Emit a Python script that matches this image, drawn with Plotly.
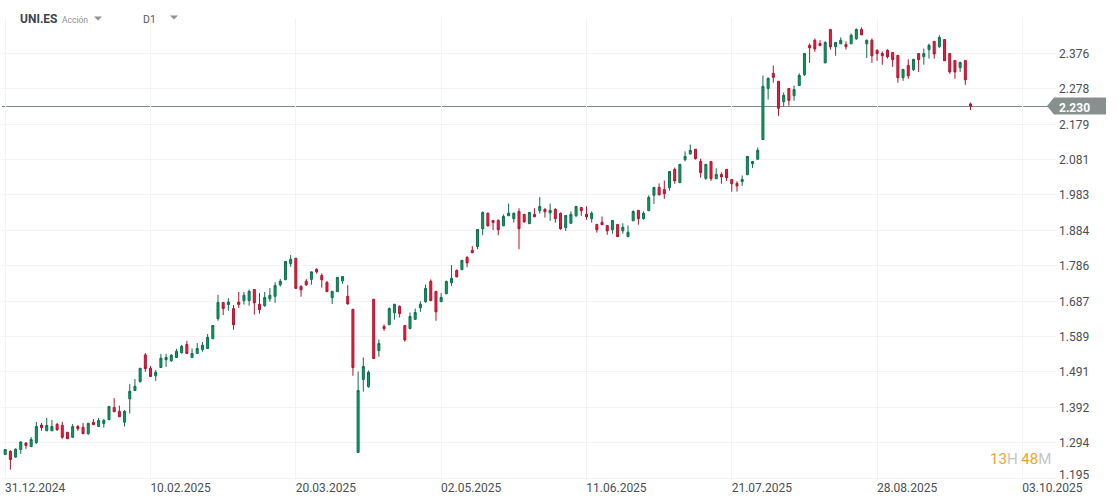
import plotly.graph_objects as go

opens = [
    1.261, 1.270, 1.254, 1.275, 1.293, 1.283, 1.294, 1.343, 1.327, 1.327,
    1.345, 1.342, 1.323, 1.309, 1.339, 1.337, 1.319, 1.351, 1.339, 1.347,
    1.358, 1.392, 1.381, 1.351, 1.416, 1.439, 1.464, 1.538, 1.501, 1.480,
    1.503, 1.525, 1.522, 1.531, 1.544, 1.567, 1.531, 1.542, 1.553, 1.556,
    1.583, 1.639, 1.684, 1.678, 1.667, 1.685, 1.689, 1.689, 1.720, 1.679,
    1.675, 1.694, 1.701, 1.733, 1.747, 1.792, 1.807, 1.729, 1.743, 1.748,
    1.776, 1.759, 1.740, 1.697, 1.714, 1.744, 1.701, 1.665, 1.267, 1.470,
    1.450, 1.693, 1.550, 1.617, 1.622, 1.655, 1.673, 1.620, 1.611, 1.637,
    1.669, 1.686, 1.743, 1.715, 1.686, 1.708, 1.739, 1.773, 1.775, 1.809,
    1.829, 1.839, 1.889, 1.932, 1.912, 1.912, 1.897, 1.925, 1.917, 1.937,
    1.929, 1.903, 1.929, 1.939, 1.943, 1.933, 1.943, 1.932, 1.892, 1.904,
    1.925, 1.948, 1.929, 1.917, 1.901, 1.907, 1.898, 1.886, 1.901, 1.883,
    1.867, 1.911, 1.940, 1.917, 1.939, 1.982, 2.004, 1.998, 2.003, 2.054,
    2.017, 2.081, 2.097, 2.110, 2.076, 2.029, 2.076, 2.028, 2.040, 2.054,
    2.026, 2.015, 2.020, 2.039, 2.070, 2.082, 2.137, 2.279, 2.321, 2.299,
    2.242, 2.279, 2.259, 2.287, 2.317, 2.399, 2.413, 2.404, 2.350, 2.443,
    2.395, 2.403, 2.401, 2.403, 2.417, 2.443, 2.403, 2.413, 2.385, 2.376,
    2.385, 2.379, 2.371, 2.309, 2.343, 2.331, 2.376, 2.367, 2.387, 2.410,
    2.395, 2.415, 2.376, 2.357, 2.337, 2.357, 2.236,
]
highs = [
    1.275, 1.273, 1.278, 1.298, 1.296, 1.310, 1.352, 1.349, 1.363, 1.357,
    1.349, 1.352, 1.323, 1.346, 1.343, 1.349, 1.348, 1.360, 1.363, 1.360,
    1.395, 1.418, 1.397, 1.385, 1.457, 1.471, 1.501, 1.543, 1.507, 1.496,
    1.541, 1.541, 1.541, 1.555, 1.566, 1.577, 1.556, 1.571, 1.574, 1.596,
    1.620, 1.705, 1.684, 1.696, 1.677, 1.713, 1.713, 1.720, 1.720, 1.710,
    1.713, 1.724, 1.740, 1.749, 1.798, 1.816, 1.807, 1.731, 1.749, 1.769,
    1.779, 1.765, 1.743, 1.715, 1.754, 1.756, 1.732, 1.665, 1.492, 1.531,
    1.495, 1.693, 1.581, 1.623, 1.670, 1.679, 1.676, 1.620, 1.656, 1.667,
    1.687, 1.734, 1.748, 1.715, 1.710, 1.745, 1.788, 1.776, 1.801, 1.813,
    1.841, 1.887, 1.937, 1.934, 1.912, 1.915, 1.929, 1.959, 1.934, 1.946,
    1.929, 1.934, 1.946, 1.977, 1.946, 1.959, 1.946, 1.934, 1.926, 1.937,
    1.951, 1.948, 1.951, 1.937, 1.901, 1.923, 1.898, 1.912, 1.901, 1.904,
    1.898, 1.940, 1.940, 1.937, 1.982, 2.004, 2.015, 2.023, 2.048, 2.059,
    2.068, 2.104, 2.123, 2.110, 2.084, 2.068, 2.076, 2.057, 2.046, 2.054,
    2.026, 2.021, 2.037, 2.090, 2.076, 2.115, 2.315, 2.310, 2.343, 2.299,
    2.268, 2.279, 2.287, 2.321, 2.376, 2.404, 2.418, 2.413, 2.410, 2.443,
    2.407, 2.421, 2.410, 2.432, 2.446, 2.449, 2.415, 2.418, 2.388, 2.382,
    2.388, 2.379, 2.371, 2.332, 2.360, 2.360, 2.376, 2.390, 2.404, 2.410,
    2.427, 2.415, 2.376, 2.357, 2.354, 2.357, 2.240,
]
lows = [
    1.261, 1.219, 1.252, 1.263, 1.277, 1.283, 1.291, 1.327, 1.327, 1.327,
    1.327, 1.305, 1.305, 1.308, 1.327, 1.319, 1.316, 1.344, 1.339, 1.336,
    1.358, 1.380, 1.366, 1.339, 1.375, 1.439, 1.461, 1.491, 1.478, 1.466,
    1.503, 1.505, 1.519, 1.531, 1.542, 1.542, 1.531, 1.542, 1.547, 1.556,
    1.583, 1.633, 1.649, 1.661, 1.608, 1.669, 1.678, 1.675, 1.650, 1.653,
    1.672, 1.686, 1.683, 1.728, 1.747, 1.783, 1.723, 1.700, 1.730, 1.733,
    1.764, 1.725, 1.714, 1.680, 1.714, 1.736, 1.678, 1.480, 1.267, 1.436,
    1.447, 1.528, 1.533, 1.605, 1.622, 1.636, 1.642, 1.575, 1.611, 1.637,
    1.658, 1.683, 1.689, 1.633, 1.686, 1.708, 1.730, 1.755, 1.775, 1.782,
    1.822, 1.832, 1.871, 1.895, 1.885, 1.871, 1.897, 1.925, 1.906, 1.832,
    1.906, 1.903, 1.922, 1.931, 1.920, 1.911, 1.906, 1.886, 1.883, 1.904,
    1.922, 1.925, 1.914, 1.906, 1.878, 1.900, 1.872, 1.875, 1.867, 1.875,
    1.867, 1.911, 1.900, 1.914, 1.939, 1.958, 1.983, 1.972, 1.995, 2.014,
    2.017, 2.076, 2.095, 2.081, 2.031, 2.025, 2.022, 2.028, 2.014, 2.022,
    1.992, 1.992, 2.008, 2.039, 2.058, 2.082, 2.137, 2.248, 2.295, 2.203,
    2.229, 2.231, 2.245, 2.287, 2.314, 2.350, 2.381, 2.398, 2.350, 2.387,
    2.370, 2.403, 2.387, 2.403, 2.414, 2.428, 2.364, 2.350, 2.356, 2.345,
    2.362, 2.339, 2.295, 2.300, 2.306, 2.328, 2.325, 2.345, 2.362, 2.362,
    2.392, 2.356, 2.320, 2.306, 2.325, 2.289, 2.219,
]
closes = [
    1.275, 1.247, 1.276, 1.296, 1.286, 1.303, 1.339, 1.336, 1.342, 1.339,
    1.330, 1.309, 1.305, 1.339, 1.333, 1.319, 1.348, 1.344, 1.356, 1.356,
    1.395, 1.380, 1.366, 1.381, 1.437, 1.451, 1.501, 1.500, 1.478, 1.490,
    1.529, 1.531, 1.537, 1.548, 1.562, 1.542, 1.542, 1.556, 1.565, 1.587,
    1.620, 1.684, 1.667, 1.685, 1.622, 1.678, 1.704, 1.715, 1.683, 1.664,
    1.698, 1.704, 1.731, 1.743, 1.798, 1.804, 1.723, 1.719, 1.733, 1.769,
    1.769, 1.747, 1.714, 1.715, 1.754, 1.756, 1.680, 1.503, 1.439, 1.506,
    1.490, 1.528, 1.570, 1.611, 1.667, 1.679, 1.653, 1.580, 1.645, 1.656,
    1.679, 1.723, 1.689, 1.658, 1.698, 1.742, 1.751, 1.755, 1.801, 1.794,
    1.822, 1.887, 1.934, 1.897, 1.906, 1.886, 1.923, 1.932, 1.932, 1.889,
    1.908, 1.934, 1.922, 1.951, 1.936, 1.940, 1.917, 1.889, 1.926, 1.929,
    1.951, 1.939, 1.922, 1.932, 1.886, 1.900, 1.883, 1.912, 1.867, 1.893,
    1.879, 1.937, 1.917, 1.932, 1.976, 2.004, 1.983, 1.986, 2.048, 2.022,
    2.068, 2.090, 2.107, 2.084, 2.045, 2.068, 2.028, 2.040, 2.033, 2.031,
    2.014, 2.008, 2.026, 2.090, 2.076, 2.107, 2.285, 2.307, 2.310, 2.224,
    2.260, 2.246, 2.276, 2.315, 2.376, 2.392, 2.389, 2.398, 2.407, 2.395,
    2.407, 2.413, 2.395, 2.427, 2.443, 2.428, 2.413, 2.370, 2.376, 2.370,
    2.367, 2.359, 2.309, 2.332, 2.314, 2.360, 2.359, 2.376, 2.399, 2.375,
    2.421, 2.356, 2.325, 2.325, 2.351, 2.303, 2.230,
]

price_ticks = [1.195, 1.294, 1.392, 1.491, 1.589, 1.687, 1.786, 1.884, 1.983, 2.081, 2.179, 2.278, 2.376]
price_labels = ["", "1.294", "1.392", "1.491", "1.589", "1.687", "1.786", "1.884", "1.983", "2.081", "2.179", "2.278", "2.376"]
date_ticks = [0, 28, 56, 84, 112, 140, 168, 196]
date_labels = ["31.12.2024", "10.02.2025", "20.03.2025", "02.05.2025", "11.06.2025", "21.07.2025", "28.08.2025", "03.10.2025"]
last_price = 2.230

TEXT = "#4a4f57"
GRID = "#f3f3f3"
PILL = "#87908f"

# plot area in page pixels
LEFT, RIGHT, TOP, BOTTOM = 2, 1056, 18, 480


def px(x):
    return (x - LEFT) / (RIGHT - LEFT)


def py(y):
    return (BOTTOM - y) / (BOTTOM - TOP)


def caret(x0, x1, y0, y1):
    # small drop down arrow in the header
    return dict(type="path", xref="paper", yref="paper", layer="above", line_width=0, fillcolor="#8d9196",
                path=f"M {px(x0)},{py(y0)} L {px(x1)},{py(y0)} L {px((x0 + x1) / 2)},{py(y1)} Z")


def label(text, x, y, size, color, **kw):
    return dict(text=text, xref="paper", yref="paper", x=px(x), y=py(y), xanchor="left", yanchor="middle",
                showarrow=False, font=dict(family="Roboto", size=size, color=color), **kw)


fig = go.Figure(go.Candlestick(
    x=list(range(len(opens))),
    open=opens,
    high=highs,
    low=lows,
    close=closes,
    whiskerwidth=0,
    increasing=dict(line=dict(color="#0b6f4b", width=1), fillcolor="#119a62"),
    decreasing=dict(line=dict(color="#b5122f", width=1), fillcolor="#e3203f"),
    showlegend=False,
))

fig.update_layout(
    width=1119,
    height=504,
    margin=dict(l=LEFT, r=1119 - RIGHT, t=TOP, b=504 - BOTTOM),
    paper_bgcolor="white",
    plot_bgcolor="white",
    boxgap=0.45,
    font=dict(family="Roboto", size=12, color=TEXT),
    shapes=[
        # pixel offset keeps the line on a whole pixel row
        dict(type="line", xref="paper", x0=0, x1=1, yref="y", ysizemode="pixel", yanchor=last_price,
             y0=-0.42, y1=-0.42, line=dict(color="#7f8b8a", width=1), layer="below"),
        dict(type="path", xref="paper", xsizemode="pixel", xanchor=1, yref="y", ysizemode="pixel",
             yanchor=last_price, layer="above", line_width=0, fillcolor=PILL,
             path="M -9,0 L -2,-8.5 L 50,-8.5 L 50,8.5 L -2,8.5 Z"),
        caret(94, 102, 16.5, 20.5),
        caret(170, 178, 15.5, 19.5),
    ],
    annotations=[
        label("<b>UNI.ES</b>", 18, 19, 12, "#3c4450"),
        label("Acción", 60, 19.5, 8.5, "#8d9196"),
        label("D1", 141, 19.5, 10.5, "#555b63"),
        label('<span style="color:#f7a035">13</span>H <span style="color:#f7a035">48</span>M',
              988, 459, 15, "#c3c7ca"),
        label(f"<b>{last_price:.3f}</b>", 1057, 107.5, 12, "white"),
        label("1.195", 1057, 474.5, 12, TEXT),
    ],
)
fig.update_xaxes(
    range=[-0.617, 202.47],
    rangeslider_visible=False,
    tickmode="array",
    tickvals=date_ticks,
    ticktext=date_labels,
    ticks="",
    ticklabelshift=30,
    ticklabelstandoff=-1,
    showgrid=True,
    gridcolor=GRID,
    gridwidth=1,
    zeroline=False,
    showline=False,
)
fig.update_yaxes(
    range=[1.1903, 2.4749],
    side="right",
    tickmode="array",
    tickvals=price_ticks,
    ticktext=price_labels,
    ticks="",
    ticklabelstandoff=2,
    showgrid=True,
    gridcolor=GRID,
    gridwidth=1,
    zeroline=False,
    showline=False,
)

fig.write_html("out.html", post_script="document.body.style.margin='0';",
               config=dict(displayModeBar=False))
